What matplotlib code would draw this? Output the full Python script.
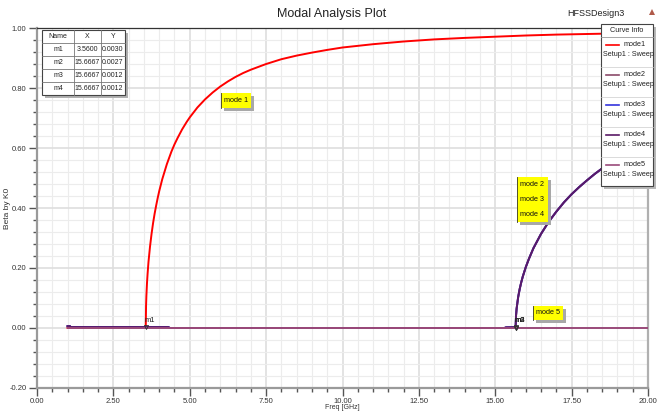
import matplotlib
matplotlib.use("Agg")
import matplotlib.pyplot as plt
from matplotlib.patches import Rectangle, Polygon
from matplotlib.lines import Line2D
from matplotlib.ticker import MultipleLocator, FormatStrFormatter

plt.rcParams['font.family'] = ['Liberation Sans', 'DejaVu Sans']

W, H = 663, 412

# ---- data ----
mode1_freq = [1.0, 3.56, 3.57, 3.58, 3.6, 3.62, 3.65, 3.7, 3.75, 3.8, 3.85, 3.9, 3.95,
              4.0, 4.1, 4.25, 4.4, 4.5, 4.6, 4.75, 4.9, 5.0, 5.25, 5.5, 5.75, 6.0,
              6.25, 6.5, 6.75, 7.0, 7.5, 8.0, 8.5, 9.0, 9.5, 10.0, 11.0,
              12.0, 13.0, 14.0, 15.0, 16.0, 17.0, 18.0, 19.0, 20.0]
mode1_beta = [0.0, 0.003, 0.075, 0.106, 0.149, 0.181, 0.221, 0.272, 0.314, 0.350, 0.381,
              0.408, 0.433, 0.456, 0.496, 0.546, 0.588, 0.612, 0.633, 0.662, 0.687,
              0.702, 0.735, 0.762, 0.785, 0.805, 0.822, 0.837, 0.850, 0.861, 0.880,
              0.896, 0.908, 0.918, 0.927, 0.935, 0.946, 0.955, 0.962, 0.967, 0.971,
              0.975, 0.978, 0.980, 0.982, 0.984]

mode234_freq = [1.0, 1.08, 1.1, 4.3, 4.35, 15.3, 15.35, 15.6667, 15.68, 15.7, 15.75,
                15.8, 15.85, 15.9, 16.0, 16.1, 16.25, 16.5, 16.75, 17.0, 17.25, 17.5,
                17.75, 18.0, 18.25, 18.5, 19.0, 19.5, 20.0]
mode234_beta = [0.006, 0.006, 0.003, 0.003, 0.0, 0.0, 0.002, 0.0027, 0.041, 0.065,
                0.103, 0.130, 0.152, 0.171, 0.203, 0.230, 0.266, 0.314, 0.354, 0.388,
                0.419, 0.446, 0.470, 0.492, 0.513, 0.532, 0.566, 0.595, 0.622]

mode5_freq = [1.0, 20.0]
mode5_beta = [0.0, 0.0]

curve_names = ["mode1", "mode2", "mode3", "mode4", "mode5"]
curve_setup = "Setup1 : Sweep"
curve_colors = ["#ff0000", "#8b4a6a", "#3333dd", "#5a1a66", "#9a4a7a"]

marker_names = ["m1", "m2", "m3", "m4"]
marker_x = [3.5600, 15.6667, 15.6667, 15.6667]
marker_y = [0.0030, 0.0027, 0.0012, 0.0012]

x_ticks = [0.0, 2.5, 5.0, 7.5, 10.0, 12.5, 15.0, 17.5, 20.0]
y_ticks = [-0.2, 0.0, 0.2, 0.4, 0.6, 0.8, 1.0]


def fx(x):
    return x / W


def fy(y):
    return 1 - y / H


fig = plt.figure(figsize=(W / 100, H / 100), dpi=100)
fig.patch.set_facecolor("white")

ax = fig.add_axes([fx(37), fy(388), 611 / W, 360 / H])
ax.set_xlim(0, 20)
ax.set_ylim(-0.2, 1.0)
ax.set_xticks(x_ticks)
ax.set_yticks(y_ticks)
ax.xaxis.set_minor_locator(MultipleLocator(0.5))
ax.yaxis.set_minor_locator(MultipleLocator(0.04))
ax.xaxis.set_major_formatter(FormatStrFormatter("%.2f"))
ax.yaxis.set_major_formatter(FormatStrFormatter("%.2f"))
ax.tick_params(which="major", direction="out", length=6, width=1.0, color="#555555",
               labelsize=5.5, labelcolor="#333333", pad=1.5)
ax.tick_params(axis="x", which="major", pad=1.5)
ax.tick_params(which="minor", direction="out", length=3, width=1.0, color="#555555")
ax.grid(which="minor", color="#ececec", linewidth=0.8)
ax.grid(which="major", color="#dedede", linewidth=1.2)
ax.set_axisbelow(True)
for side in ("left", "bottom"):
    ax.spines[side].set_color("#9a9a9a")
    ax.spines[side].set_linewidth(1.6)
ax.spines["top"].set_color("#333333")
ax.spines["top"].set_linewidth(0.9)
ax.spines["right"].set_color("#b0b0b0")
ax.spines["right"].set_linewidth(1.6)

# curves
ax.plot(mode1_freq, mode1_beta, color=curve_colors[0], lw=1.4, zorder=3)
ax.plot(mode234_freq, mode234_beta, color=curve_colors[1], lw=1.4, zorder=3)
ax.plot(mode234_freq, mode234_beta, color=curve_colors[2], lw=1.4, zorder=3)
ax.plot(mode234_freq, mode234_beta, color=curve_colors[3], lw=1.4, zorder=3)
ax.plot(mode5_freq, mode5_beta, color=curve_colors[4], lw=1.4, zorder=3)

# markers
for name, mx, my in zip(marker_names, marker_x, marker_y):
    ax.plot([mx], [my], marker="v", ms=3, mfc="none", mec="#333333", mew=0.6, zorder=4)
    ax.annotate(name, (mx, my), xytext=(-1, 4), textcoords="offset points",
                fontsize=5.5, color="#222222", ha="left", zorder=5)

# axis titles
fig.text(fx(342), fy(407.5), "Freq [GHz]", ha="center", va="center",
         fontsize=5, color="#333333")
fig.text(fx(8), fy(208), "Beta by K0", rotation=90, ha="center", va="center",
         fontsize=6, color="#333333")

fig.text(0.5, fy(14), "Modal Analysis Plot", ha="center", va="center", fontsize=9,
         color="#222222")
fig.text(fx(596), fy(14), "HFSSDesign3", ha="center", va="center", fontsize=6.5,
         color="#222222")
fig.patches.append(Polygon([[fx(649), fy(15)], [fx(655), fy(15)], [fx(652), fy(9)]],
                           closed=True, transform=fig.transFigure,
                           facecolor="#b05a4a", edgecolor="none"))


def fig_rect(x0, y0, x1, y1, fc, ec="none", lw=0.8, z=10):
    r = Rectangle((fx(x0), fy(y1)), fx(x1) - fx(x0), fy(y0) - fy(y1),
                  transform=fig.transFigure, facecolor=fc, edgecolor=ec,
                  linewidth=lw, zorder=z)
    fig.patches.append(r)


def fig_line(x0, y0, x1, y1, color, lw=0.6, z=12):
    fig.lines.append(Line2D([fx(x0), fx(x1)], [fy(y0), fy(y1)],
                            transform=fig.transFigure, color=color, lw=lw, zorder=z))


def note_box(x0, y0, x1, y1, lines):
    fig_rect(x0 + 3, y0 + 3, x1 + 3, y1 + 3, "#a8a8a8", z=10)
    fig_rect(x0, y0, x1, y1, "#ffff00", z=11)
    fig_line(x0, y0, x0, y1, "#333333", lw=0.6, z=12)
    n = len(lines)
    step = (y1 - y0) / n
    for i, t in enumerate(lines):
        fig.text(fx((x0 + x1) / 2), fy(y0 + step * (i + 0.5)), t, ha="center",
                 va="center", fontsize=5.2, color="#111111", zorder=13)


note_box(221, 93, 251, 108, ["mode 1"])
note_box(517, 177, 548, 222, ["mode 2", "mode 3", "mode 4"])
note_box(533, 306, 563, 320, ["mode 5"])

# marker table
tx = [42, 74, 101, 125]
ty = [30, 43, 56, 69, 82, 95]
fig_rect(tx[0] + 3, ty[0] + 3, tx[-1] + 3, ty[-1] + 3, "#b0b0b0", z=10)
fig_rect(tx[0], ty[0], tx[-1], ty[-1], "white", ec="#444444", lw=0.8, z=11)
for xv in tx[1:-1]:
    fig_line(xv, ty[0], xv, ty[-1], "#777777")
for yv in ty[1:-1]:
    fig_line(tx[0], yv, tx[-1], yv, "#777777")
header = ["Name", "X", "Y"]
rows = [header] + [[n, f"{x:.4f}", f"{y:.4f}"]
                   for n, x, y in zip(marker_names, marker_x, marker_y)]
for r, row in enumerate(rows):
    for c, val in enumerate(row):
        fig.text(fx((tx[c] + tx[c + 1]) / 2), fy((ty[r] + ty[r + 1]) / 2), val,
                 ha="center", va="center", fontsize=5.0, color="#222222", zorder=13)

# curve info legend
lx0, lx1, ly0, ly1 = 601, 653, 24, 186
fig_rect(lx0 + 3, ly0 + 3, lx1 + 3, ly1 + 3, "#b8b8b8", z=10)
fig_rect(lx0, ly0, lx1, ly1, "white", ec="#444444", lw=0.8, z=11)
fig.text(fx((lx0 + lx1) / 2), fy(31), "Curve Info", ha="center", va="center",
         fontsize=5.2, color="#222222", zorder=13)
fig_line(lx0, 37, lx1, 37, "#999999")
for i, (name, col) in enumerate(zip(curve_names, curve_colors)):
    yb = 37 + 30 * i
    if i > 0:
        fig_line(lx0, yb, lx1, yb, "#cccccc", lw=0.5)
    fig_line(606, yb + 8, 619, yb + 8, col, lw=1.2, z=13)
    fig.text(fx(624), fy(yb + 8), name, ha="left", va="center", fontsize=5.2,
             color="#222222", zorder=13)
    fig.text(fx(603), fy(yb + 18), curve_setup, ha="left", va="center", fontsize=5.2,
             color="#222222", zorder=13)

fig.savefig("out.png", dpi=100)
